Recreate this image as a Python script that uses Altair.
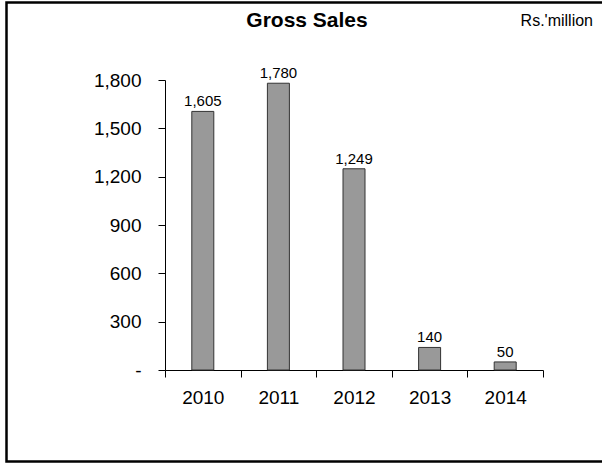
import altair as alt
import pandas as pd

years = ["2010", "2011", "2012", "2013", "2014"]
sales = [1605, 1780, 1249, 140, 50]
labels = ["1,605", "1,780", "1,249", "140", "50"]
y_ticks = [0, 300, 600, 900, 1200, 1500, 1800]

df = pd.DataFrame({"year": years, "sales": sales, "label": labels})
FONT = "Liberation Sans"

x_enc = alt.X("year:N", title=None, sort=years,
              scale=alt.Scale(paddingInner=0, paddingOuter=0),
              axis=alt.Axis(labelAngle=0, tickBand="extent", labelFontSize=19,
                            labelFont=FONT, labelColor="black", labelPadding=11,
                            tickSize=7, tickColor="black", domainColor="black",
                            grid=False))
y_enc = alt.Y("sales:Q", title=None,
              scale=alt.Scale(domain=[0, 1800], nice=False),
              axis=alt.Axis(values=y_ticks, labelFontSize=19, labelFont=FONT,
                            labelColor="black", labelPadding=17, tickSize=7,
                            tickColor="black", domainColor="black", grid=False,
                            labelExpr="datum.value == 0 ? '-' : format(datum.value, ',')"))

base = alt.Chart(df)
bars = base.mark_bar(color="#999999", stroke="#333333", strokeWidth=1, size=22).encode(
    x=x_enc, y=y_enc
)
text = base.mark_text(baseline="alphabetic", dy=-5, fontSize=15, font=FONT, color="black").encode(
    x=alt.X("year:N", sort=years), y="sales:Q", text="label:N"
)

one = alt.Chart(pd.DataFrame({"t": ["Gross Sales"], "u": ["Rs.'million"]}))
title = one.mark_text(fontSize=21, fontWeight="bold", font=FONT, color="black",
                      baseline="alphabetic", align="center").encode(
    x=alt.value(142), y=alt.value(-53), text="t:N")
unit = one.mark_text(fontSize=16, font=FONT, color="black",
                     baseline="alphabetic", align="right").encode(
    x=alt.value(428), y=alt.value(-54), text="u:N")
border = one.mark_rect(fill=None, stroke="black", strokeWidth=2.5).encode(
    x=alt.value(-158.5), x2=alt.value(460), y=alt.value(-77.5), y2=alt.value(381.5))

chart = alt.layer(border, bars, text, title, unit).properties(
    width=378, height=290,
    background="white",
    autosize=alt.AutoSizeParams(type="none"),
    padding={"left": 165, "top": 80, "right": 59, "bottom": 94},
).configure_view(stroke=None)

chart.save("out.html", embed_options={"renderer": "svg", "actions": False})
